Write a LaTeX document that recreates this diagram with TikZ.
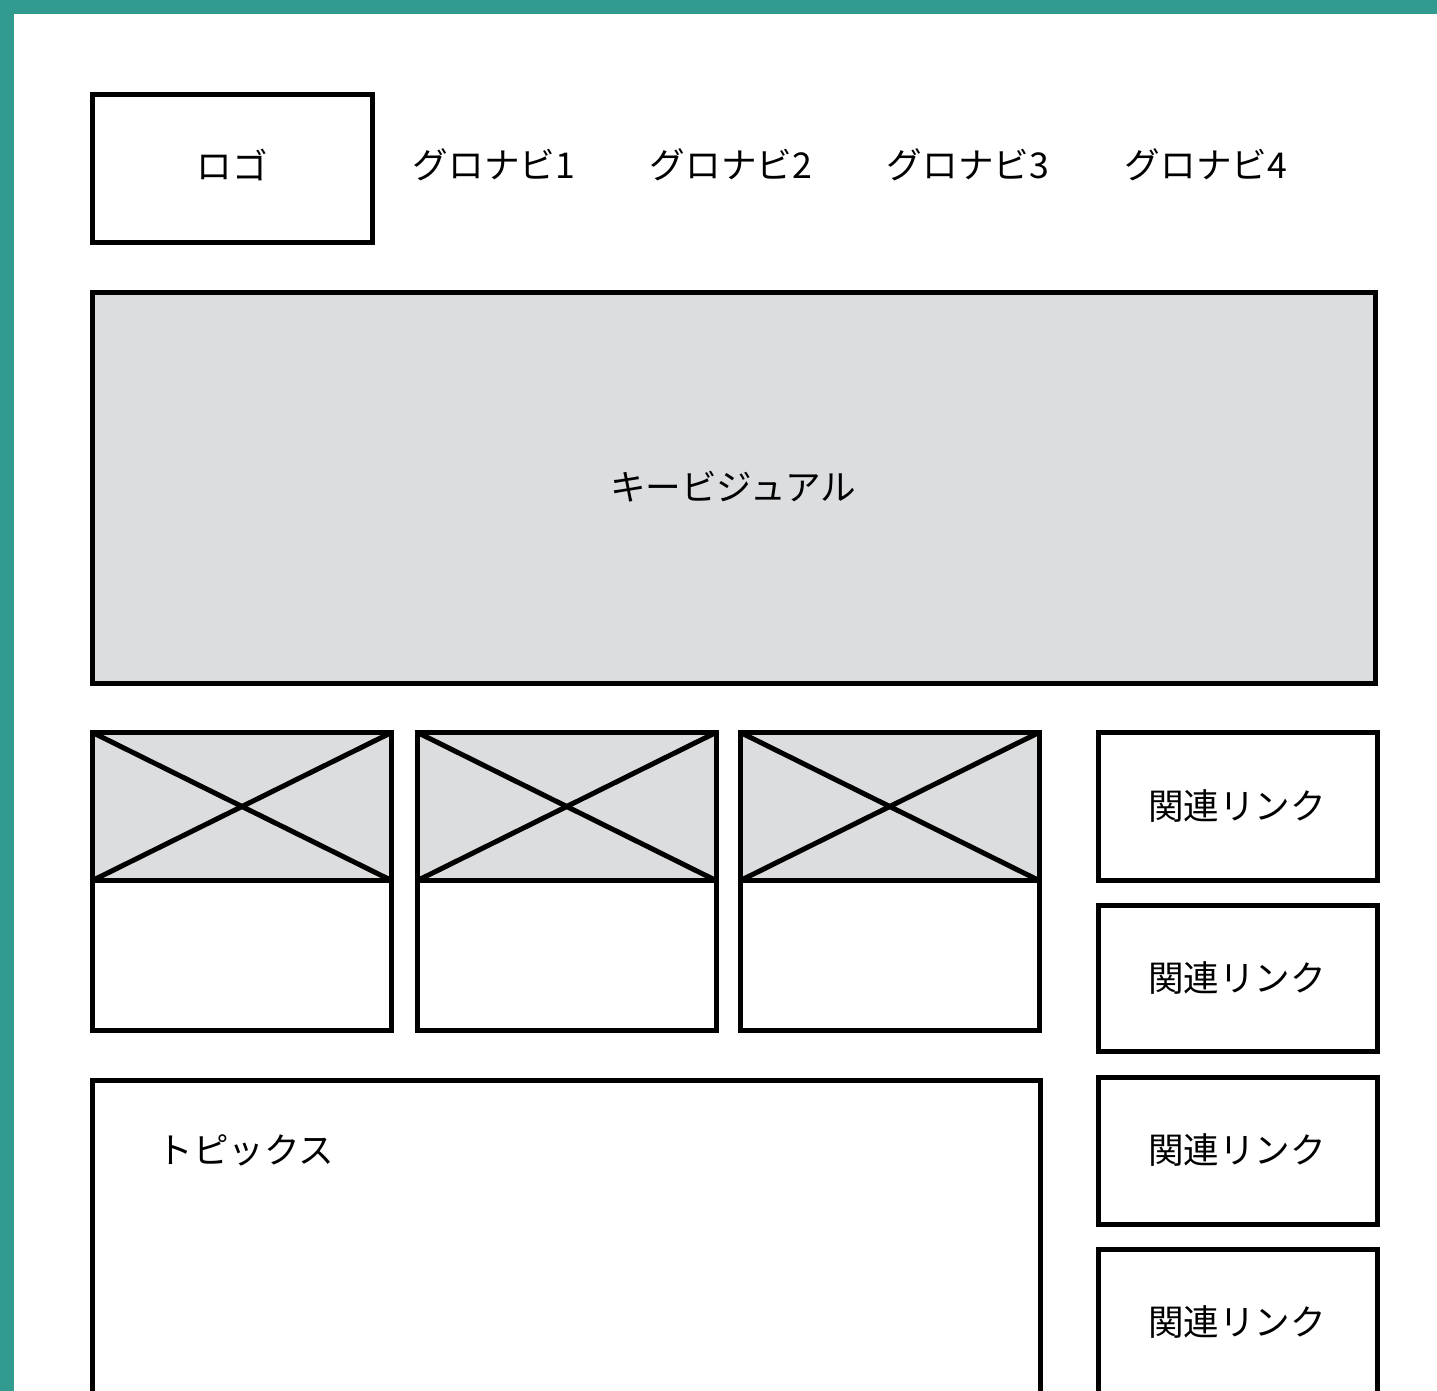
\documentclass[tikz,border=0pt]{standalone}
\usepackage{fontspec}
\setmainfont{Noto Sans CJK JP}
\definecolor{teal0}{RGB}{50,155,143}
\definecolor{kvgray}{RGB}{220,221,223}
\begin{document}
\begin{tikzpicture}[x=0.5pt,y=-0.5pt,
  frame/.style={draw=black,line width=2.5pt},
  lbl/.style={font=\fontsize{17.8}{21}\selectfont,inner sep=0pt,anchor=center},
  cross/.style={draw=black,line width=2.5pt}]
\useasboundingbox (0,0) rectangle (1437,1391);
\clip (0,0) rectangle (1437,1391);
\fill[white] (0,0) rectangle (1437,1391);
\fill[teal0] (0,0) rectangle (1437,14);
\fill[teal0] (0,0) rectangle (14,1391);
% logo
\draw[frame] (92,94.5) rectangle (372,243);
\node[lbl] (logo) at (232,165) {ロゴ};
\node[lbl] (nav1) at (494,165) {グロナビ1};
\node[lbl] (nav2) at (731,165) {グロナビ2};
\node[lbl] (nav3) at (968,165) {グロナビ3};
\node[lbl] (nav4) at (1206,165) {グロナビ4};
% key visual
\draw[frame,fill=kvgray] (92.5,292.5) rectangle (1375.5,683.5);
\node[lbl] (kv) at (733,487) {キービジュアル};
% cards
\foreach \xa/\xb in {92.5/391.5, 417.5/716, 740.5/1039}{
  \fill[kvgray] (\xa,732.5) rectangle (\xb,880.5);
  \draw[cross] (\xa,732.5) -- (\xb,880.5);
  \draw[cross] (\xa,880.5) -- (\xb,732.5);
  \draw[frame] (\xa,732.5) rectangle (\xb,1030.5);
  \draw[frame] (\xa,880.5) -- (\xb,880.5);
}
% related links
\foreach \ya/\yb/\yc in {732.5/880.5/806, 905.5/1051.5/978, 1077.5/1224.5/1150, 1249.5/1420/1322}{
  \draw[frame] (1098.5,\ya) rectangle (1377.5,\yb);
  \node[lbl] at (1237,\yc) {関連リンク};
}
% topics
\draw[frame] (92.5,1080.5) rectangle (1040,1420);
\node[lbl] (topics) at (246,1150) {トピックス};
\end{tikzpicture}
\end{document}
